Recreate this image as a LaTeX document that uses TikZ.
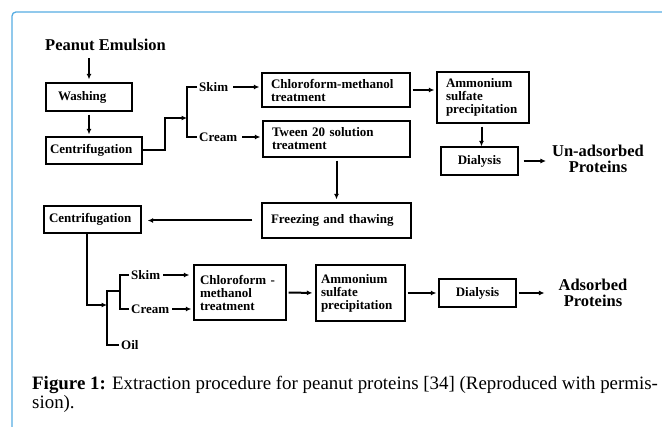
\documentclass[tikz,border=0pt]{standalone}
\usepackage{fontspec}
\setmainfont{Liberation Serif}
\usetikzlibrary{arrows.meta}
\definecolor{framecol}{RGB}{86,172,226}
\newcommand\boxfont{\bfseries\fontsize{13}{13}\selectfont}
\newcommand\headfont{\bfseries\fontsize{16.5}{16}\selectfont}
\tikzset{
  box/.style={draw, line width=1.3pt, inner ysep=0pt, align=left, font=\boxfont},
  lbl/.style={anchor=west, inner sep=2pt, font=\boxfont},
  head/.style={inner sep=2pt, align=center, font=\headfont},
  line/.style={line width=2pt},
  arr/.style={line width=2pt, -{Latex[length=5.5pt,width=5pt]}},
}
\begin{document}
\begin{tikzpicture}[x=1pt,y=-1pt]
\useasboundingbox (0,0) rectangle (662,427);
\draw[framecol, line width=1.3pt, rounded corners=4pt] (12,427) -- (12,12) -- (662,12);
\node[head, anchor=west] (pe) at (43,45) {Peanut Emulsion};
\node[box, text width=62pt, inner xsep=12pt, minimum height=28pt] (wash) at (89,97) {Washing};
\node[box, text width=88pt, inner xsep=4pt, minimum height=27pt] (cent1) at (94,150.5) {Centrifugation};
\coordinate (j1) at (187,118);
\node[lbl] (skim1) at (197,87) {Skim};
\node[lbl] (cream1) at (197,137) {Cream};
\node[box, text width=130pt, inner xsep=9pt, minimum height=34pt] (chloro1) at (336,90) {Chloroform-methanol\\treatment};
\node[box, text width=129pt, inner xsep=9pt, minimum height=36pt] (tween) at (336.5,139) {Tween 20 solution\\treatment};
\node[box, text width=74pt, inner xsep=9pt, minimum height=51pt] (amm1) at (483,97.5) {Ammonium\\sulfate\\precipitation};
\node[box, text width=69pt, inner xsep=4pt, minimum height=28pt, align=center] (dial1) at (479.5,161) {Dialysis};
\node[head] (unads) at (598,159) {Un-adsorbed\\Proteins};
\node[box, text width=131pt, inner xsep=9pt, minimum height=35pt] (freeze) at (336.5,220.5) {Freezing and thawing};
\node[box, text width=87pt, inner xsep=5pt, minimum height=27pt] (cent2) at (92.5,219.5) {Centrifugation};
\coordinate (j2) at (107,305);
\coordinate (k2) at (107,291);
\coordinate (j3) at (120,291);
\node[lbl] (skim2) at (129,275) {Skim};
\node[lbl] (cream2) at (129,309) {Cream};
\node[lbl] (oil) at (119,345) {Oil};
\node[box, text width=80pt, inner xsep=6pt, minimum height=55pt] (chloro2) at (240,292.5) {Chloroform -\\methanol\\treatment};
\node[box, text width=79pt, inner xsep=5pt, minimum height=56pt] (amm2) at (360.5,293) {Ammonium\\sulfate\\precipitation};
\node[box, text width=69pt, inner xsep=4pt, minimum height=28pt, align=center] (dial2) at (477.5,293) {Dialysis};
\node[head] (ads) at (593,293) {Adsorbed\\Proteins};
\node[anchor=base west, inner sep=0pt, align=left, font=\fontsize{18.9}{19}\selectfont] (cap) at (32,409)
  {\textbf{Figure 1:} Extraction procedure for peanut proteins [34] (Reproduced with permis-\\sion).};

\draw[arr, shorten <=5pt, shorten >=3pt] (pe.south -| wash.north) -- (wash.north);
\draw[arr, shorten <=3pt, shorten >=2pt] (wash.south) -- (cent1.north -| wash.south);
\draw[arr] (cent1.east) -- ++(22,0) |- (j1);
\draw[line] (skim1.west) -| (j1);
\draw[line] (cream1.west) -| (j1);
\draw[arr, shorten <=3pt, shorten >=2pt] (skim1.east) -- (skim1.east -| chloro1.west);
\draw[arr, shorten <=3pt, shorten >=2pt] (cream1.east) -- (cream1.east -| tween.west);
\draw[arr, shorten <=2pt, shorten >=2pt] (chloro1.east) -- (chloro1.east -| amm1.west);
\draw[arr, shorten <=3pt] (amm1.south -| dial1.north) ++(2,0) -- ([xshift=2pt]dial1.north);
\draw[arr, shorten <=5pt, shorten >=4pt] (dial1.east) -- (dial1.east -| unads.west);
\draw[arr, shorten <=3pt, shorten >=3pt] (tween.south) -- (freeze.north);
\draw[arr, shorten <=9pt, shorten >=6pt] (freeze.west) -- (freeze.west -| cent2.east);
\draw[arr] ([xshift=-5.5pt]cent2.south) |- (j2);
\draw[line] (oil.west) -| (k2) -- (j3);
\draw[line] (skim2.west) -| (j3);
\draw[line] (cream2.west) -| (j3);
\draw[arr, shorten <=1pt, shorten >=4pt] (skim2.east) -- (skim2.east -| chloro2.west);
\draw[arr, shorten <=1pt, shorten >=2pt] (cream2.east) -- (cream2.east -| chloro2.west);
\draw[arr, shorten <=2pt, shorten >=3pt] (chloro2.east) -- (amm2.west);
\draw[arr, shorten <=2pt, shorten >=2pt] (amm2.east) -- (dial2.west);
\draw[arr, shorten <=2pt, shorten >=12pt] (dial2.east) -- (dial2.east -| ads.west);
\end{tikzpicture}
\end{document}
